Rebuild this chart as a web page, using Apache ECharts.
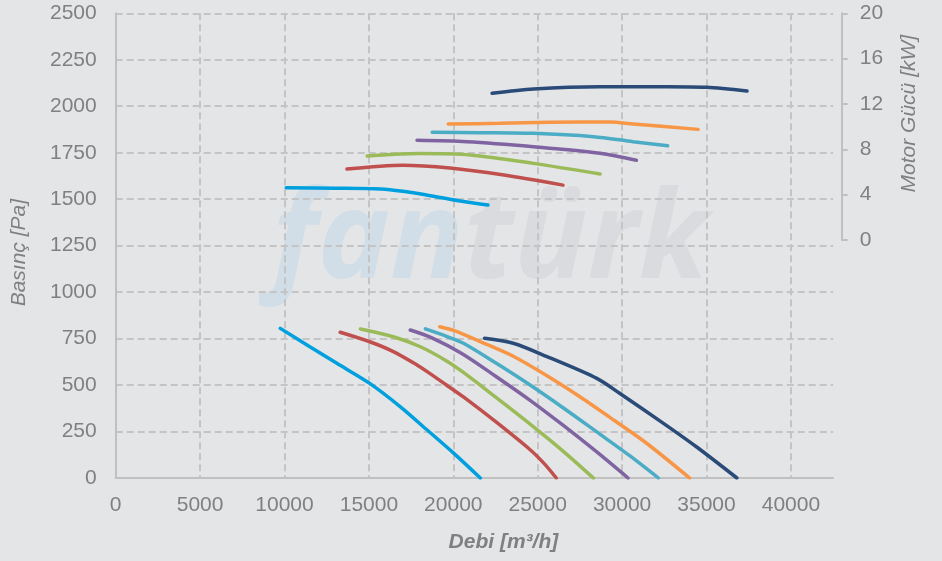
<!DOCTYPE html>
<html><head><meta charset="utf-8">
<script src="https://cdn.jsdelivr.net/npm/echarts/dist/echarts.min.js"></script>
<style>html,body{margin:0;padding:0;background:#e4e5e7}#c{width:942px;height:561px}</style>
</head><body><div id="c"></div>
<script>
// ---- Data (flow m3/h, pressure Pa) ----
const press1 = [[9750,805],[11500,706],[13100,617],[15050,509],[16850,384],[18400,262],[20000,135],[21600,0]];
const press2 = [[13300,784],[15050,733],[16450,680],[17850,608],[18600,563],[19550,503],[20600,436],[22550,300],[24550,152],[25400,76],[26100,0]];
const press3 = [[14500,802],[16450,760],[18050,706],[19600,630],[20600,568],[22550,432],[24550,290],[26500,145],[28300,0]];
const press4 = [[17450,796],[18700,755],[20500,670],[22550,545],[24550,418],[26500,284],[28500,140],[30350,0]];
const press5 = [[18350,802],[19600,762],[20600,725],[22550,617],[24550,500],[26500,378],[28500,248],[30450,120],[32150,0]];
const press6 = [[19200,814],[20100,792],[21600,734],[23550,655],[25550,550],[27500,437],[29500,312],[31450,187],[34000,0]];
const press7 = [[21850,752],[23550,725],[25550,653],[28500,536],[29850,456],[32450,294],[34400,168],[36800,0]];
// ---- Motor power (flow m3/h, kW) ----
const power1 = [[10100,4.6],[13000,4.57],[15700,4.5],[17000,4.3],[18400,3.97],[20300,3.47],[22050,3.09]];
const power2 = [[13700,6.26],[17000,6.6],[19800,6.35],[22900,5.75],[26500,4.84]];
const power3 = [[14900,7.41],[16850,7.59],[18000,7.63],[21000,7.5],[24750,6.76],[28700,5.82]];
const power4 = [[17850,8.79],[20800,8.67],[24750,8.23],[28700,7.65],[30850,7.03]];
const power5 = [[18750,9.5],[21500,9.47],[24750,9.41],[28300,9.11],[30650,8.67],[32700,8.32]];
const power6 = [[19700,10.23],[22750,10.29],[25700,10.38],[29300,10.41],[30650,10.23],[34500,9.76]];
const power7 = [[22300,12.94],[24750,13.32],[28700,13.52],[32650,13.52],[35000,13.47],[37400,13.14]];
const colors = ['#00a0df','#c0504d','#9bbb59','#8064a2','#4bacc6','#f79646','#2a4b78'];
const xTitle = 'Debi [m³/h]';
const yTitle = 'Basınç [Pa]';
const y2Title = 'Motor Gücü [kW]';
const watermarkA = 'fan';
const watermarkB = 'türk';

const pressureCurves = [press1,press2,press3,press4,press5,press6,press7];
const powerCurves = [power1,power2,power3,power4,power5,power6,power7];

const gray = '#808080';
const axisLineColor = '#c0c0c0';
const font = 'Liberation Sans';
const splitStyle = {color:'#c4c4c4', type:[7,4], width:2};

const series = [];
pressureCurves.forEach((d,i)=>series.push({
  type:'line', xAxisIndex:0, yAxisIndex:0, data:d, smooth:0.3, symbol:'none',
  lineStyle:{width:3.5, color:colors[i], cap:'round'}, itemStyle:{color:colors[i]}, z:3
}));
powerCurves.forEach((d,i)=>series.push({
  type:'line', xAxisIndex:1, yAxisIndex:1, data:d, smooth:0.3, symbol:'none',
  lineStyle:{width:3.5, color:colors[i], cap:'round'}, itemStyle:{color:colors[i]}, z:3
}));

const chart = echarts.init(document.getElementById('c'));
chart.setOption({
  backgroundColor:'#e4e5e7',
  animation:false,
  textStyle:{fontFamily:font},
  graphic:[{
    type:'text', z:-5, silent:true,
    style:{
      text:'{a|'+watermarkA+'}{b|'+watermarkB+'}',
      x:490, y:243, align:'center', verticalAlign:'middle',
      font:'italic bold 122px "Open Sans"',
      rich:{
        a:{fill:'#d2dee7', fontSize:122, fontStyle:'italic', fontWeight:'bold', fontFamily:'Open Sans'},
        b:{fill:'#dadbde', fontSize:122, fontStyle:'italic', fontWeight:'bold', fontFamily:'Open Sans'}
      }
    }
  }],
  grid:[
    {left:115.7, right:108.9, top:13.3, bottom:83, containLabel:false},
    {left:115.7, right:108.9, top:13.3, height:226.7, containLabel:false}
  ],
  xAxis:[
    {type:'value', gridIndex:0, min:0, max:42500, interval:5000,
     axisLine:{show:true, onZero:false, lineStyle:{color:axisLineColor, width:2}},
     axisTick:{show:false},
     axisLabel:{color:gray, fontSize:21, margin:17, formatter:v=> v>40000 ? '' : String(v)},
     splitLine:{show:true, showMaxLine:false, showMinLine:false, lineStyle:splitStyle},
     name:xTitle, nameLocation:'middle', nameGap:54,
     nameTextStyle:{color:gray, fontSize:21, fontStyle:'italic', fontWeight:'bold', padding:[0,0,0,58]}
    },
    {type:'value', gridIndex:1, min:0, max:42500, interval:5000, show:false}
  ],
  yAxis:[
    {type:'value', gridIndex:0, min:0, max:2500, interval:250,
     axisLine:{show:true, onZero:false, lineStyle:{color:axisLineColor, width:2}},
     axisTick:{show:false},
     axisLabel:{color:gray, fontSize:21, margin:19, formatter:v=>String(v)},
     splitLine:{show:true, showMinLine:false, lineStyle:splitStyle},
     name:yTitle, nameLocation:'middle', nameRotate:90, nameGap:86,
     nameTextStyle:{color:gray, fontSize:21, fontStyle:'italic', padding:[0,14,0,0]}
    },
    {type:'value', gridIndex:1, position:'right', offset:8.6, min:0, max:20, interval:4,
     axisLine:{show:true, onZero:false, lineStyle:{color:axisLineColor, width:2}},
     axisTick:{show:true, inside:false, length:6, lineStyle:{color:axisLineColor, width:2}},
     axisLabel:{color:gray, fontSize:21, margin:18, formatter:v=>String(v)},
     splitLine:{show:false},
     name:y2Title, nameLocation:'middle', nameRotate:90, nameGap:57,
     nameTextStyle:{color:gray, fontSize:21, fontStyle:'italic', padding:[0,0,0,26]}
    }
  ],
  series:series
});
</script></body></html>
